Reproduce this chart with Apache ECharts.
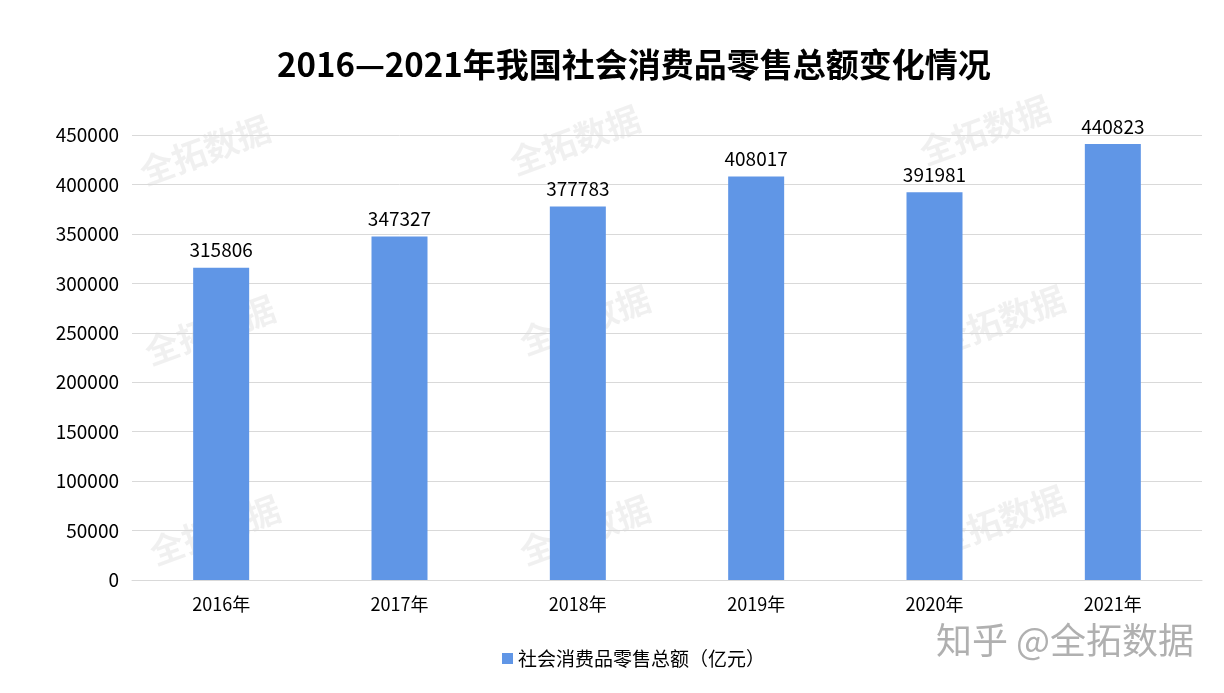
<!DOCTYPE html>
<html><head><meta charset="utf-8">
<script src="https://cdn.jsdelivr.net/npm/echarts@6/dist/echarts.min.js"></script>
<style>html,body{margin:0;padding:0;background:#fff}#c{width:1224px;height:693px}</style>
</head><body><div id="c"></div>
<script>
const titleText = '2016—2021年我国社会消费品零售总额变化情况';
const categories = ['2016年','2017年','2018年','2019年','2020年','2021年'];
const seriesName = '社会消费品零售总额（亿元）';
const values = [315806, 347327, 377783, 408017, 391981, 440823];
const watermarkPositions = [[205,150],[575,140],[985,130],[210,330],[585,320],[1000,320],[215,530],[585,530],[1000,520]];
const font = '"Microsoft YaHei","Noto Sans CJK SC",sans-serif';

const wm = watermarkPositions.map(p => ({
  type:'text', x:p[0], y:p[1], rotation: 20*Math.PI/180, silent:true, z:0,
  style:{text:'全拓数据', fill:'rgba(0,0,0,0.06)', font:'bold 34px '+font, align:'center', verticalAlign:'middle'}
}));
wm.push({type:'text', right:30, top:622, silent:true, z:100,
  style:{text:'知乎 @全拓数据', fill:'rgba(150,150,150,0.75)', font:'36px '+font}});

const chart = echarts.init(document.getElementById('c'));
chart.setOption({
  backgroundColor:'#fff',
  animation:false,
  title:{text:titleText, left:272, top:43, textStyle:{fontSize:33, fontWeight:'bold', color:'#000', fontFamily:font}},
  grid:{left:132, right:22, top:135, bottom:113, containLabel:false},
  legend:{bottom:20, left:497, itemWidth:11, itemHeight:11, icon:'rect', itemGap:6,
    textStyle:{fontSize:19, color:'#000', fontFamily:font}},
  xAxis:{type:'category', data:categories,
    axisLine:{lineStyle:{color:'#d9d9d9'}}, axisTick:{show:false},
    axisLabel:{fontSize:18, color:'#000', margin:15, fontFamily:font}},
  yAxis:{type:'value', min:0, max:450000, interval:50000,
    axisLine:{show:false}, axisTick:{show:false},
    splitLine:{lineStyle:{color:'#d9d9d9'}},
    axisLabel:{fontSize:19, color:'#000', margin:13, fontFamily:font, formatter: v => String(v)}},
  series:[{name:seriesName, type:'bar', data:values, barWidth:56,
    itemStyle:{color:'#6096E6'},
    label:{show:true, position:'top', distance:8, fontSize:19, color:'#000', fontFamily:font}}],
  graphic: wm
});
</script></body></html>
